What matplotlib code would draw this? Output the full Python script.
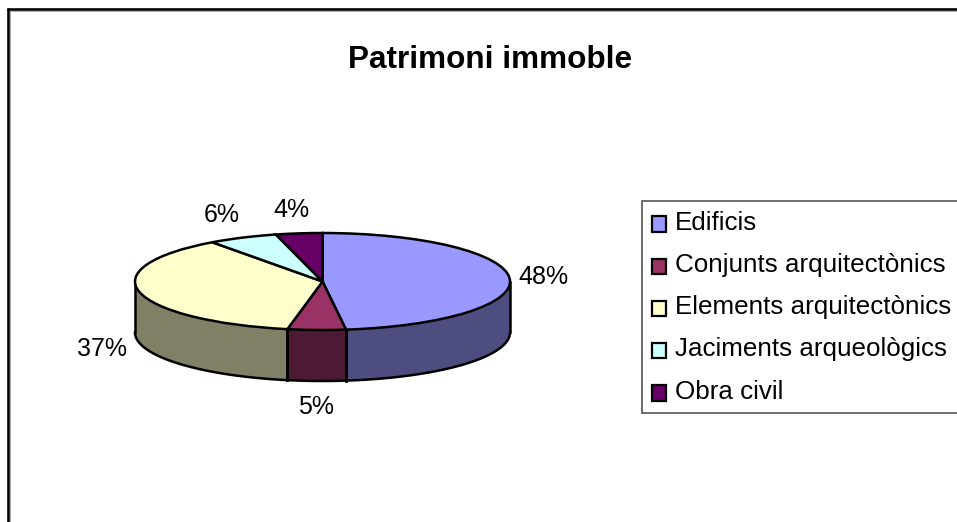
import numpy as np
import matplotlib
matplotlib.use("Agg")
import matplotlib.pyplot as plt
from matplotlib.lines import Line2D

plt.rcParams['font.family'] = ['Liberation Sans', 'DejaVu Sans']

W, H = 957, 522
# pie geometry in pixels
cx, cy, rx, ry, depth = 322.5, 281.5, 187.5, 48.5, 51

categories = ["Edificis", "Conjunts arquitectònics", "Elements arquitectònics",
              "Jaciments arqueològics", "Obra civil"]
values = [48, 5, 37, 6, 4]
colors = ["#9999FF", "#993366", "#FFFFCC", "#CCFFFF", "#660066"]
side_colors = ["#4D4D80", "#4D1A33", "#808066", "#668080", "#330033"]
# label offset from the rim, in pixels
label_off = [(34, 1.5), (-1, -77), (-38, -57), (-21, 23), (-8, 23)]

fig = plt.figure(figsize=(W/100, H/100), dpi=100)
ax = fig.add_axes([0, 0, 1, 1])

wedges, _ = ax.pie(values, colors=colors, startangle=90, counterclock=False,
                   wedgeprops=dict(edgecolor="black", linewidth=1.8), normalize=True)
ax.set_aspect("auto")
ax.set_xlim(-cx/rx, (W-cx)/rx)
ax.set_ylim(-(H-cy)/ry, cy/ry)
ax.axis("off")

d = depth/ry
# side wall, only the front half can be seen
for w, c in zip(wedges, side_colors):
    lo, hi = w.theta1, w.theta2
    for shift in (0, -360):
        s, e = max(lo+shift, -180), min(hi+shift, 0)
        if e > s:
            t = np.radians(np.linspace(s, e, 80))
            x = np.cos(t)
            y = np.sin(t)
            ax.fill_between(x, y, y-d, color=c, lw=0, zorder=0.5)
            ax.plot(x, y-d, color="black", lw=1.8, zorder=0.6)
            ax.plot([x[0], x[0]], [y[0], y[0]-d], color="black", lw=1.8, zorder=0.6)
            ax.plot([x[-1], x[-1]], [y[-1], y[-1]-d], color="black", lw=1.8, zorder=0.6)

# percent labels
for w, v, off in zip(wedges, values, label_off):
    mid = np.radians((w.theta1+w.theta2)/2)
    ax.annotate(f"{v}%", xy=(np.cos(mid), np.sin(mid)),
                xytext=(off[0]*0.72, off[1]*0.72), textcoords="offset points",
                ha="center", va="center", fontsize=18, color="black")

ax.text(490/W, 1-60/H, "Patrimoni immoble", transform=ax.transAxes, ha="center", va="center",
        fontsize=22.7, fontweight="bold", color="black")

leg = ax.legend(wedges, categories, loc="upper left", bbox_to_anchor=(642/W, 1-201/H),
                bbox_transform=ax.transAxes, borderaxespad=0, fontsize=18.7, frameon=True,
                fancybox=False, edgecolor="#555555", framealpha=1,
                handlelength=0.54, handleheight=0.54, handletextpad=0.35,
                labelspacing=0.70, borderpad=0.38)
leg.get_frame().set_linewidth(1.2)
for h in leg.legend_handles:
    h.set_linewidth(1.6)
    h.set_edgecolor("black")
    h.set_y(h.get_y()-2.5)

# outer border, only top and left fall inside the picture
for xs, ys, col, lw in [([10, W], [10.6, 10.6], "#aaaaaa", 1.0), ([9.6, 9.6], [10, H], "#aaaaaa", 1.0),
                        ([8, 8], [8, H], "black", 2.6), ([7, W], [9, 9], "black", 2.6)]:
    fig.add_artist(Line2D([x/W for x in xs], [1-y/H for y in ys], color=col, lw=lw*0.72,
                          transform=fig.transFigure, solid_capstyle="butt"))

fig.savefig("out.png", dpi=100)
